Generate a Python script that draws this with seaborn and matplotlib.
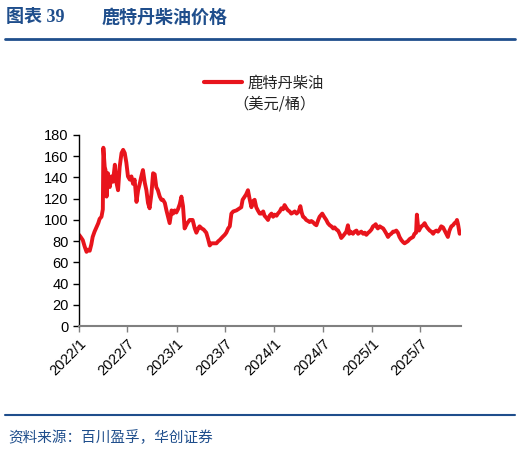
import pandas as pd
import numpy as np
import matplotlib.pyplot as plt
import matplotlib.dates as mdates
from matplotlib.lines import Line2D
import seaborn as sns

# данные: дни от 2022-01-01 и цена дизеля в Роттердаме (USD/баррель)
start_date = '2022-01-01'
days = [0, 6, 14, 21, 28, 33, 40, 46, 51, 58, 65, 72, 77, 84, 89, 91, 96, 99, 103, 108,
        115, 121, 127, 134, 140, 146, 152, 159, 165, 171, 177, 183, 190, 196, 202, 208,
        215, 221, 227, 233, 239, 246, 252, 258, 264, 271, 277, 283, 289, 295, 302, 308,
        314, 321, 327, 333, 339, 346, 352, 358, 364, 370, 377, 383, 389, 395, 405, 414,
        425, 433, 439, 446, 451, 459, 466, 476, 483, 489, 496, 504, 514, 521, 526, 537,
        545, 551, 558, 564, 570, 577, 589, 595, 601, 607, 612, 620, 625, 632, 638, 645,
        652, 657, 663, 669, 676, 682, 689, 694, 701, 707, 713, 720, 726, 732, 739, 744,
        751, 757, 763, 769, 776, 782, 788, 794, 801, 807, 814, 822, 828, 833, 838, 844,
        850, 857, 863, 869, 875, 882, 888, 895, 900, 910, 917, 925, 931, 938, 944, 951,
        956, 963, 969, 975, 981, 988, 994, 1000, 1006, 1011, 1016, 1025, 1031, 1038, 1044,
        1050, 1056, 1063, 1069, 1075, 1082, 1087, 1094, 1100, 1106, 1110, 1115, 1118, 1125,
        1131, 1138, 1143, 1150, 1156, 1162, 1168, 1175, 1181, 1187, 1193, 1199, 1206, 1213,
        1218, 1224, 1230, 1237, 1243, 1250, 1255, 1261, 1264, 1268, 1272, 1276, 1281, 1287,
        1293, 1299, 1305, 1312, 1318, 1325, 1330, 1337, 1343, 1349, 1355, 1362, 1368, 1374,
        1380, 1386, 1393, 1399, 1405, 1411, 1414, 1418, 1424]
prices = [86, 84, 81, 75, 70, 72, 71, 77, 84, 89, 93, 97, 101, 103, 110, 168, 150, 147, 122, 144,
          131, 141, 136, 152, 135, 128, 150, 163, 166, 163, 154, 141, 138, 141, 134, 138,
          117, 128, 134, 141, 147, 135, 128, 116, 111, 125, 144, 143, 131, 128, 122, 119,
          119, 116, 109, 103, 97, 109, 106, 109, 107, 110, 115, 122, 113, 92, 97, 100,
          100, 92, 88, 92, 94, 92, 91, 88, 82, 76, 78, 78, 78, 80, 81, 84,
          86, 88, 92, 94, 106, 108, 109, 110, 111, 112, 119, 122, 124, 128, 120, 112,
          118, 119, 112, 109, 106, 106, 108, 104, 102, 100, 104, 106, 103, 105, 104, 106,
          108, 111, 110, 114, 111, 109, 108, 106, 107, 108, 106, 108, 113, 107, 103, 102,
          100, 99, 98, 99, 98, 96, 95, 100, 103, 106, 103, 100, 97, 95, 94, 92,
          93, 91, 90, 87, 83, 85, 87, 89, 95, 87, 89, 87, 89, 90, 87,
          88, 89, 87, 88, 86, 88, 89, 91, 94, 95, 96, 93, 92, 94,
          93, 92, 90, 87, 84, 86, 87, 89, 89, 90, 88, 84, 81, 79,
          78, 79, 80, 82, 83, 84, 87, 88, 105, 95, 90, 92, 94, 95,
          97, 94, 92, 90, 89, 87, 89, 90, 89, 91, 94, 93, 90, 87,
          84, 90, 94, 95, 97, 98, 100, 96, 87]
tick_labels = ['2022/1', '2022/7', '2023/1', '2023/7', '2024/1', '2024/7', '2025/1', '2025/7']
tick_dates = ['2022-01-01', '2022-07-01', '2023-01-01', '2023-07-01',
              '2024-01-01', '2024-07-01', '2025-01-01', '2025-07-01']

df = pd.DataFrame({'date': pd.to_datetime(start_date) + pd.to_timedelta(days, unit='D'),
                   'price': prices})

sns.set_style('ticks')
plt.rcParams['font.family'] = ['Liberation Sans', 'Noto Sans CJK SC', 'DejaVu Sans']

red = '#E8141C'
blue = '#1F4E8C'

fig = plt.figure(figsize=(5.2, 4.53), dpi=100)
ax = fig.add_axes([0.152, 0.280, 0.735, 0.422])

sns.lineplot(data=df, x='date', y='price', color=red, linewidth=2.8, ax=ax, legend=False)

ax.set_ylim(0, 180)
ax.set_yticks(range(0, 181, 20))
ax.set_xlim(pd.Timestamp('2022-01-01'), pd.Timestamp('2025-12-01'))
ax.set_xticks(pd.to_datetime(tick_dates))
ax.set_xticklabels(tick_labels, rotation=45, ha='right', rotation_mode='anchor')
ax.set_xlabel('')
ax.set_ylabel('')
ax.tick_params(axis='both', labelsize=10.5, length=4, width=1, direction='out')
ax.tick_params(axis='x', colors='#808080', labelcolor='#000000')
ax.tick_params(axis='y', colors='#000000', labelcolor='#000000')
for side in ['top', 'right']:
    ax.spines[side].set_visible(False)
ax.spines['bottom'].set_color('#808080')
ax.spines['bottom'].set_linewidth(1.5)
ax.spines['left'].set_color('#000000')
ax.spines['left'].set_linewidth(1)

# легенда: первая строка с линией, вторая строка отдельно
handle = Line2D([0], [0], color=red, linewidth=3)
fig.legend([handle], ['鹿特丹柴油'], loc='center left', bbox_to_anchor=(0.365, 0.817),
           frameon=False, handlelength=2.5, handletextpad=0.4,
           prop={'family': ['Noto Sans CJK SC'], 'size': 11})
fig.text(0.448, 0.770, '（美元/桶）', fontsize=11, color='#222222',
         family=['Noto Sans CJK SC'], va='center')

# заголовок и источник
fig.text(0.012, 0.962, '图表 39', fontsize=13, fontweight='bold', color=blue,
         family=['Liberation Serif', 'Noto Sans CJK SC'], va='center')
fig.text(0.195, 0.962, '鹿特丹柴油价格', fontsize=13, fontweight='bold', color=blue,
         family=['Noto Sans CJK SC'], va='center')
fig.add_artist(Line2D([0.01, 0.99], [0.915, 0.915], color=blue, linewidth=2))
fig.add_artist(Line2D([0.01, 0.99], [0.083, 0.083], color=blue, linewidth=1.5))
fig.text(0.015, 0.033, '资料来源：百川盈孚，华创证券', fontsize=10.5, style='italic', color=blue,
         family=['Noto Sans CJK SC'], va='center')

plt.savefig('out.png', dpi=100)
plt.close()
